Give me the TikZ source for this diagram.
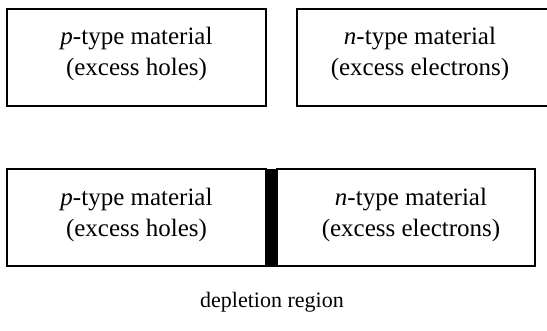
\documentclass[tikz,border=0pt]{standalone}
\usepackage{fontspec}
\setmainfont{Liberation Serif}
\begin{document}
\begin{tikzpicture}[x=1pt,y=-1pt,
  box/.style={draw,line width=2pt,rectangle,inner sep=0pt},
  lbl/.style={align=center,font=\fontsize{25}{31}\selectfont,inner sep=0pt}]
\useasboundingbox (0,0) rectangle (547,330);
\clip (0,0) rectangle (547,330);
% separated materials
\node[box,minimum width=259pt,minimum height=97pt] (p1) at (136.5,57) {};
\node[box,minimum width=260pt,minimum height=97pt] (n1) at (427,57) {};
\node[lbl] (pt1) at (136.5,54) {\textit{p}-type material\\(excess holes)};
\node[lbl] (nt1) at (420,54) {\textit{n}-type material\\(excess electrons)};
% joined materials with depletion layer
\node[box,minimum width=259pt,minimum height=97pt] (p2) at (136.5,217.5) {};
\node[box,minimum width=258pt,minimum height=97pt] (n2) at (406,217.5) {};
\node[fill=black,inner sep=0pt,minimum width=11pt,minimum height=98pt] (dep) at (271.5,217.5) {};
\node[lbl] (pt2) at (136.5,215) {\textit{p}-type material\\(excess holes)};
\node[lbl] (nt2) at (411,215) {\textit{n}-type material\\(excess electrons)};
\node[lbl,font=\fontsize{22}{27}\selectfont] (deplbl) at (272,302) {depletion region};
\end{tikzpicture}
\end{document}
